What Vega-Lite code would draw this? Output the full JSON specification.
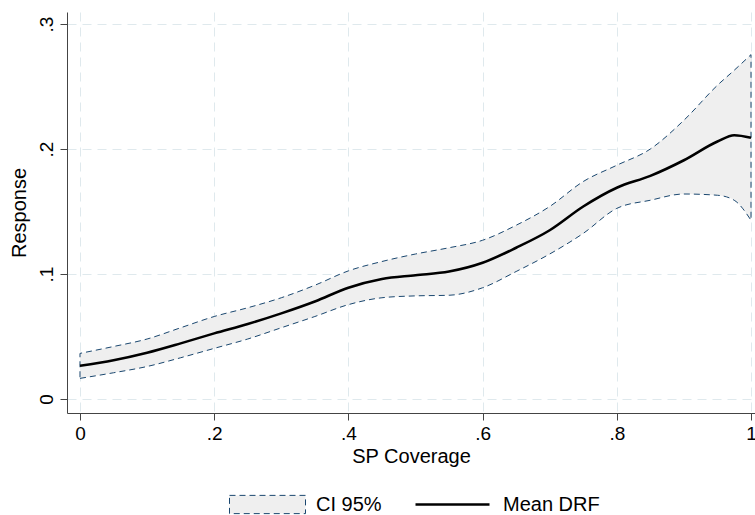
{
  "$schema": "https://vega.github.io/schema/vega-lite/v6.json",
  "width": 688,
  "height": 401,
  "autosize": {"type": "none"},
  "padding": {"left": 67, "top": 12, "right": 0, "bottom": 102},
  "background": "white",
  "config": {
    "view": {"stroke": null},
    "font": "Liberation Sans",
    "axis": {
      "domainColor": "#444444",
      "domainWidth": 1,
      "tickColor": "#444444",
      "tickWidth": 1,
      "tickSize": 7,
      "labelFont": "Liberation Sans",
      "labelFontSize": 19,
      "labelColor": "#000000",
      "titleFont": "Liberation Sans",
      "titleFontSize": 20,
      "titleFontWeight": "normal",
      "titleColor": "#000000",
      "grid": true,
      "gridColor": "#dfe9ed",
      "gridDash": [9, 6],
      "gridWidth": 1
    },
    "legend": {
      "labelFont": "Liberation Sans",
      "labelFontSize": 20,
      "labelColor": "#000000",
      "padding": 0
    }
  },
  "data": {
    "values": [
      {"x": 0.0, "mean": 0.0266, "lo": 0.0165, "hi": 0.0365},
      {"x": 0.05, "mean": 0.031, "lo": 0.021, "hi": 0.042},
      {"x": 0.1, "mean": 0.037, "lo": 0.026, "hi": 0.048},
      {"x": 0.15, "mean": 0.0445, "lo": 0.033, "hi": 0.057},
      {"x": 0.2, "mean": 0.0525, "lo": 0.0405, "hi": 0.066},
      {"x": 0.25, "mean": 0.06, "lo": 0.048, "hi": 0.073},
      {"x": 0.3, "mean": 0.0685, "lo": 0.057, "hi": 0.081},
      {"x": 0.35, "mean": 0.078, "lo": 0.066, "hi": 0.091},
      {"x": 0.4, "mean": 0.089, "lo": 0.0755, "hi": 0.1025},
      {"x": 0.45, "mean": 0.096, "lo": 0.081, "hi": 0.11},
      {"x": 0.5, "mean": 0.099, "lo": 0.0825, "hi": 0.116},
      {"x": 0.55, "mean": 0.102, "lo": 0.083, "hi": 0.121},
      {"x": 0.6, "mean": 0.109, "lo": 0.089, "hi": 0.127},
      {"x": 0.65, "mean": 0.121, "lo": 0.102, "hi": 0.139},
      {"x": 0.7, "mean": 0.135, "lo": 0.116, "hi": 0.154},
      {"x": 0.75, "mean": 0.154, "lo": 0.1325, "hi": 0.174},
      {"x": 0.8, "mean": 0.169, "lo": 0.1525, "hi": 0.187},
      {"x": 0.85, "mean": 0.1785, "lo": 0.159, "hi": 0.2},
      {"x": 0.9, "mean": 0.191, "lo": 0.164, "hi": 0.223},
      {"x": 0.95, "mean": 0.206, "lo": 0.163, "hi": 0.251},
      {"x": 0.975, "mean": 0.211, "lo": 0.159, "hi": 0.263},
      {"x": 1.0, "mean": 0.209, "lo": 0.143, "hi": 0.2755}
    ]
  },
  "encoding": {
    "x": {
      "field": "x",
      "type": "quantitative",
      "scale": {"domain": [-0.01937, 1.00596], "nice": false, "zero": false},
      "axis": {
        "title": "SP Coverage",
        "values": [0, 0.2, 0.4, 0.6, 0.8, 1],
        "labelExpr": "datum.value == 0 ? '0' : datum.value == 1 ? '1' : replace(format(datum.value, '.1f'), '0.', '.')",
        "labelPadding": 4,
        "titlePadding": 3,
        "labelFlush": false
      }
    }
  },
  "layer": [
    {
      "mark": {
        "type": "area",
        "interpolate": "monotone",
        "stroke": "#1a476f",
        "strokeWidth": 1,
        "strokeDash": [6, 4],
        "opacity": 1
      },
      "encoding": {
        "y": {
          "field": "lo",
          "type": "quantitative",
          "scale": {"domain": [-0.0112, 0.3096], "nice": false, "zero": false},
          "axis": {
            "title": "Response",
            "values": [0, 0.1, 0.2, 0.3],
            "labelExpr": "datum.value == 0 ? '0' : replace(format(datum.value, '.1f'), '0.', '.')",
            "labelAngle": -90,
            "labelAlign": "center",
            "labelBaseline": "bottom",
            "labelPadding": 4,
            "titlePadding": 8,
            "labelFlush": false
          }
        },
        "y2": {"field": "hi"},
        "fill": {
          "datum": "CI 95%",
          "type": "nominal",
          "scale": {"range": ["#efefef"]},
          "legend": {
            "orient": "none",
            "legendX": 162,
            "legendY": 454,
            "title": null,
            "symbolType": "M-1,-0.24H1V0.24H-1Z",
            "symbolSize": 5776,
            "symbolStrokeColor": "#1a476f",
            "symbolStrokeWidth": 1,
            "symbolDash": [6, 4],
            "symbolFillColor": "#efefef",
            "symbolOpacity": 1,
            "labelOffset": 10
          }
        }
      }
    },
    {
      "mark": {"type": "line", "interpolate": "monotone", "strokeWidth": 2.6},
      "encoding": {
        "y": {"field": "mean", "type": "quantitative"},
        "stroke": {
          "datum": "Mean DRF",
          "type": "nominal",
          "scale": {"range": ["#000000"]},
          "legend": {
            "orient": "none",
            "legendX": 347,
            "legendY": 454,
            "title": null,
            "symbolType": "stroke",
            "symbolSize": 5476,
            "symbolStrokeWidth": 2.6,
            "symbolStrokeColor": "#000000",
            "labelOffset": 12
          }
        }
      }
    }
  ]
}
